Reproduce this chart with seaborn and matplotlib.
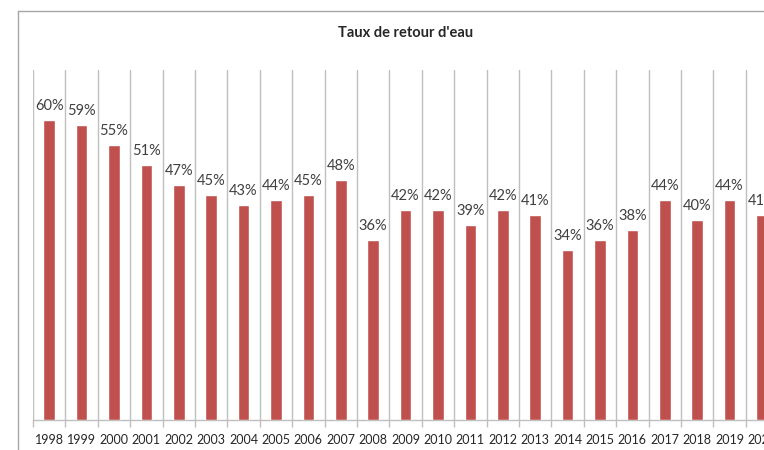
import matplotlib
matplotlib.use("Agg")
import matplotlib.pyplot as plt
from matplotlib.lines import Line2D
import seaborn as sns
import pandas as pd

# Water return rate per year (%)
years = ["1998", "1999", "2000", "2001", "2002", "2003", "2004", "2005",
         "2006", "2007", "2008", "2009", "2010", "2011", "2012", "2013",
         "2014", "2015", "2016", "2017", "2018", "2019", "2020"]
rates = [60, 59, 55, 51, 47, 45, 43, 44, 45, 48, 36, 42, 42, 39, 42, 41,
         34, 36, 38, 44, 40, 44, 41]
title = "Taux de retour d'eau"

sns.set_theme(style="white")
plt.rcParams["font.family"] = ["Lato", "DejaVu Sans"]

W, H = 764, 450
fig = plt.figure(figsize=(W / 100, H / 100), dpi=100)
fig.patch.set_facecolor("white")

# chart frame (top and left edges)
fx, fy = 18 / W, 1 - 11 / H
fig.add_artist(Line2D([fx, 1.0], [fy, fy], transform=fig.transFigure,
                      color="#a6a6a6", linewidth=1.0))
fig.add_artist(Line2D([fx, fx], [0.0, fy], transform=fig.transFigure,
                      color="#a6a6a6", linewidth=1.0))

left, right, top, bottom = 33, 33 + 23 * 32.4, 70, 420
ax = fig.add_axes([left / W, (H - bottom) / H, (right - left) / W,
                   (bottom - top) / H])
ax.set_facecolor("none")

df = pd.DataFrame({"year": years, "rate": rates})
sns.barplot(data=df, x="year", y="rate", color="#c0504d", width=0.36,
            saturation=1, ax=ax, zorder=3)

for cont in ax.containers:
    ax.bar_label(cont, labels=[f"{v}%" for v in rates], padding=5,
                 fontsize=10.5, color="#404040")

ax.set_xlim(-0.5, len(years) - 0.5)
ax.set_ylim(0, 70)
ax.set_xlabel("")
ax.set_ylabel("")
ax.set_yticks([])

# category boundaries: gridlines and tick marks
bounds = [i - 0.5 for i in range(len(years) + 1)]
ax.set_xticks(bounds, minor=True)
ax.grid(True, axis="x", which="minor", color="#bfbfbf", linewidth=1.0,
        zorder=0)
ax.grid(False, axis="x", which="major")
ax.tick_params(axis="x", which="minor", length=5, width=1.0,
               color="#bfbfbf", direction="out", bottom=True)
ax.tick_params(axis="x", which="major", length=0, pad=10, labelsize=9,
               labelcolor="#262626")

for s in ["top", "right", "left"]:
    ax.spines[s].set_visible(False)
ax.spines["bottom"].set_color("#bfbfbf")
ax.spines["bottom"].set_linewidth(1.0)

fig.text((left + right) / 2 / W, 1 - 33 / H, title, ha="center",
         va="center", fontsize=10.5, fontweight="bold", color="#262626")

fig.savefig("out.png", dpi=100)
